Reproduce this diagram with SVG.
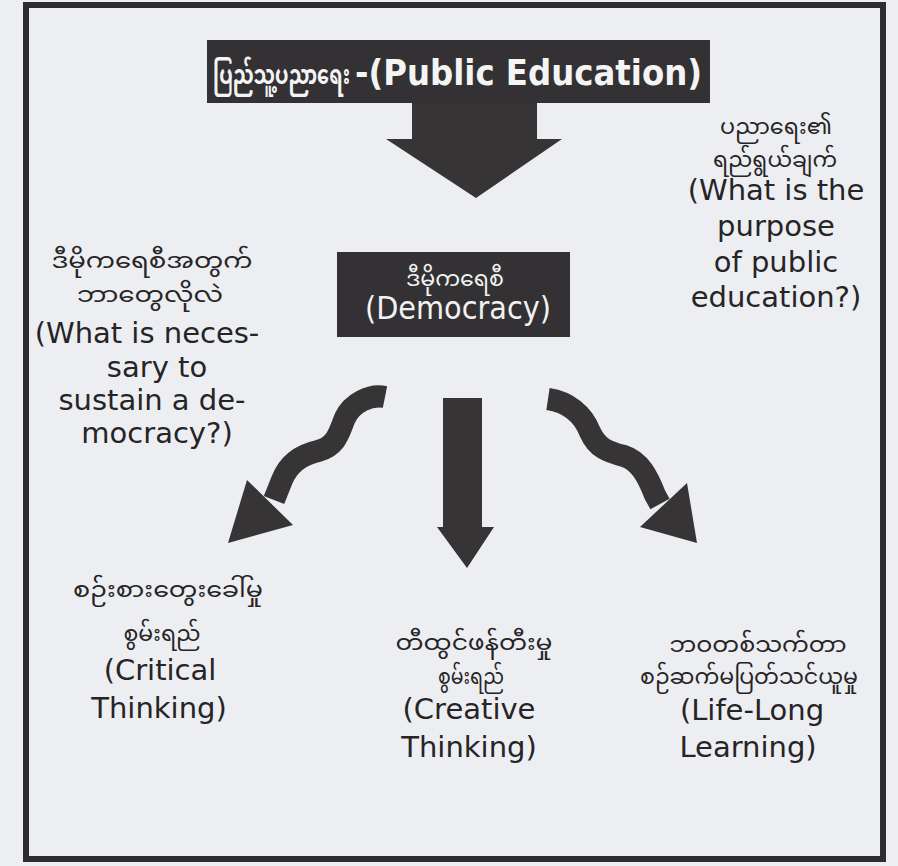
<svg xmlns="http://www.w3.org/2000/svg" width="898" height="866" viewBox="0 0 898 866">
<style>
.bg{fill:#eceef2}
.frame{fill:none;stroke:#2e2c2e;stroke-width:6}
.box{fill:#333133}
.dark{fill:#373435}
.wave{fill:none;stroke:#373435;stroke-width:22;stroke-linecap:butt;stroke-linejoin:round}
.en{font-family:"DejaVu Sans",Verdana,sans-serif;font-size:29px;fill:#262425;text-anchor:middle}
.dem{font-family:"DejaVu Sans Condensed","DejaVu Sans",sans-serif;font-stretch:condensed;font-size:32px;fill:#f2f2f2;text-anchor:middle}
.my{font-family:"Noto Sans Myanmar","Padauk","Myanmar Text","Noto Sans",sans-serif;font-size:21px;fill:#262425;text-anchor:middle}
.w{fill:#f2f2f2}
.title{font-family:"DejaVu Sans Condensed","DejaVu Sans",sans-serif;font-stretch:condensed;font-weight:bold;font-size:36px;fill:#f4f4f4;text-anchor:end}
.titlemy{font-family:"Noto Sans Myanmar","Padauk","Myanmar Text","Noto Sans",sans-serif;font-weight:bold;font-size:27px;fill:#f4f4f4}
</style>
<rect class="bg" x="0" y="0" width="898" height="866"/>
<rect class="frame" x="26" y="5" width="857" height="854"/>

<g id="connectors">
  <polygon class="dark" points="412,103 537,103 537,139 562,139 476,198 386,139 412,139"/>
  <polygon class="dark" points="443,398 482,398 482,527 494,527 467,568 437,527 443,527"/>
  <path class="wave" d="M385,397 C370,394 352,403 345,418 C339,432 337,446 318,451 C300,455 288,465 282,480 L274,500"/>
  <polygon class="dark" points="247,480 293,525 228,543"/>
  <path class="wave" d="M548,399 C568,402 583,414 590,432 C597,448 608,452 624,456 C640,461 648,477 655,495 L660,504"/>
  <polygon class="dark" points="640,527 687,483 697,543"/>
</g>

<g id="public-education">
  <rect class="box" x="207" y="40" width="503" height="63"/>
  <text class="titlemy" x="213" y="84" textLength="137" lengthAdjust="spacingAndGlyphs">ပြည်သူ့ပညာရေး</text>
  <text class="title" x="702" y="85">-(Public Education)</text>
</g>

<g id="democracy">
  <rect class="box" x="337" y="252" width="233" height="85"/>
  <text class="my w" x="455" y="286" textLength="98" lengthAdjust="spacingAndGlyphs">ဒီမိုကရေစီ</text>
  <text class="dem" x="458" y="319">(Democracy)</text>
</g>

<g id="purpose">
  <text class="my" x="776" y="134" textLength="112" lengthAdjust="spacingAndGlyphs">ပညာရေး၏</text>
  <text class="my" x="775" y="167" textLength="124" lengthAdjust="spacingAndGlyphs">ရည်ရွယ်ချက်</text>
  <text class="en" x="776" y="200">(What is the</text>
  <text class="en" x="776" y="236">purpose</text>
  <text class="en" x="776" y="272">of public</text>
  <text class="en" x="776" y="307">education?)</text>
</g>

<g id="necessary">
  <text class="my" x="152" y="268" textLength="201" lengthAdjust="spacingAndGlyphs">ဒီမိုကရေစီအတွက်</text>
  <text class="my" x="150" y="302" textLength="146" lengthAdjust="spacingAndGlyphs">ဘာတွေလိုလဲ</text>
  <text class="en" x="147" y="343">(What is neces-</text>
  <text class="en" x="157" y="377">sary to</text>
  <text class="en" x="152" y="410">sustain a de-</text>
  <text class="en" x="157" y="443">mocracy?)</text>
</g>

<g id="critical-thinking">
  <text class="my" x="168" y="597" textLength="190" lengthAdjust="spacingAndGlyphs">စဉ်းစားတွေးခေါ်မှု</text>
  <text class="my" x="162" y="641" textLength="77" lengthAdjust="spacingAndGlyphs">စွမ်းရည်</text>
  <text class="en" x="160" y="680">(Critical</text>
  <text class="en" x="159" y="718">Thinking)</text>
</g>

<g id="creative-thinking">
  <text class="my" x="474" y="650" textLength="157" lengthAdjust="spacingAndGlyphs">တီထွင်ဖန်တီးမှု</text>
  <text class="my" x="471" y="684" textLength="66" lengthAdjust="spacingAndGlyphs">စွမ်းရည်</text>
  <text class="en" x="469" y="719">(Creative</text>
  <text class="en" x="469" y="757">Thinking)</text>
</g>

<g id="life-long-learning">
  <text class="my" x="758" y="652" textLength="177" lengthAdjust="spacingAndGlyphs">ဘဝတစ်သက်တာ</text>
  <text class="my" x="749" y="684" textLength="218" lengthAdjust="spacingAndGlyphs">စဉ်ဆက်မပြတ်သင်ယူမှု</text>
  <text class="en" x="752" y="720">(Life-Long</text>
  <text class="en" x="748" y="757">Learning)</text>
</g>
</svg>
